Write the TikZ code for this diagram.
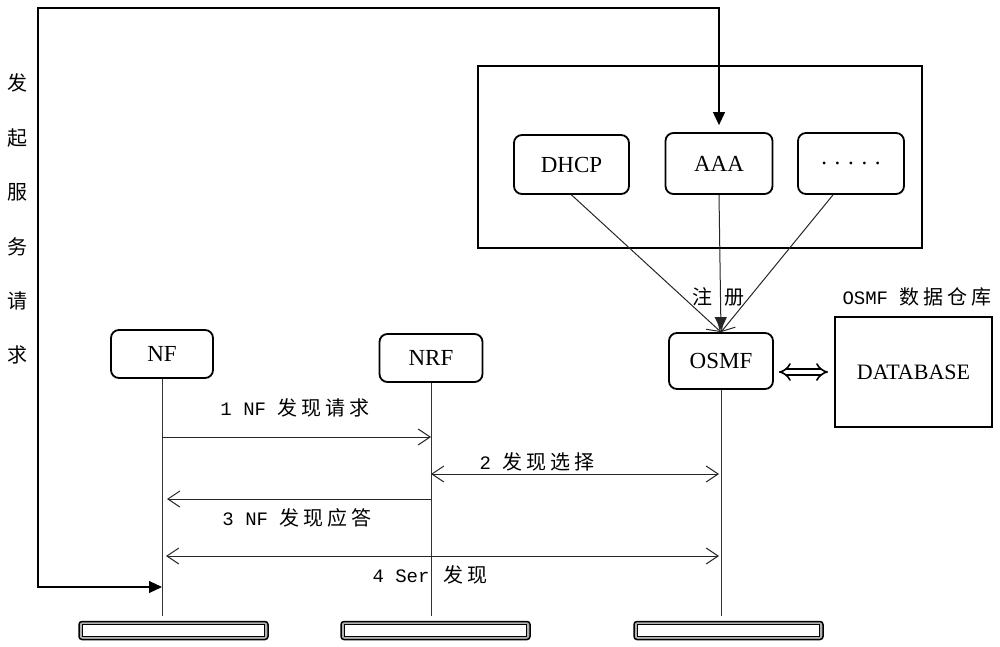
\documentclass[tikz,border=0pt]{standalone}
\usepackage{fontspec}
\setmainfont{Liberation Serif}
\newfontfamily\cjk[LetterSpace=20]{Noto Sans CJK SC}
\newfontfamily\cjkv{Noto Sans CJK SC}
\newfontfamily\monof{Liberation Mono}
\usetikzlibrary{arrows.meta}
\begin{document}
\begin{tikzpicture}[x=1pt,y=-1pt,
  rbox/.style={draw, rounded corners=8pt, line width=1.8pt, inner sep=0pt, font=\fontsize{23}{26}\selectfont},
  sbox/.style={draw, line width=1.9pt, inner sep=0pt},
  barbox/.style={draw, rounded corners=3pt, line width=1.5pt, fill=gray!60, minimum width=189pt, minimum height=18pt, inner sep=0pt},
  life/.style={line width=1pt, draw=black!80},
  msg/.style={line width=1pt, draw=black!85},
  barb/.tip={Straight Barb[length=12pt,width=16pt,line width=1pt]},
  tri/.tip={Triangle[length=13pt,width=12pt]},
  lbl/.style={inner sep=0pt, font=\fontsize{20}{24}\selectfont},
]
\useasboundingbox (0,0) rectangle (1000,647);

% outer group box
\node[sbox, minimum width=444pt, minimum height=182pt] (grp) at (700,157) {};
\node[rbox, minimum width=115pt, minimum height=59pt] (DHCP) at (571.5,164.5) {DHCP};
\node[rbox, minimum width=107pt, minimum height=61pt] (AAA) at (719,163.5) {AAA};
\node[rbox, minimum width=106pt, minimum height=61pt] (dots) at (851,163.5) {.\,\,.\,\,.\,\,.\,\,.};

% lifeline heads
\node[rbox, minimum width=102pt, minimum height=48pt] (NF) at (162,354) {NF};
\node[rbox, minimum width=103pt, minimum height=48pt] (NRF) at (431,358) {NRF};
\node[rbox, minimum width=104pt, minimum height=56pt] (OSMF) at (721,361) {OSMF};
\node[sbox, minimum width=157pt, minimum height=110pt, font=\fontsize{22}{26}\selectfont] (DB) at (913.5,372) {DATABASE};

% bottom bars
\node[barbox] (bar1) at (173.5,630.5) {};
\node[barbox] (bar2) at (435.5,630.5) {};
\node[barbox] (bar3) at (728.5,630.5) {};
\foreach \b in {bar1,bar2,bar3}{
  \draw[fill=white, line width=1pt] ([shift={(4,4)}]\b.north west) rectangle ([shift={(-4,-4)}]\b.south east);
}

% lifelines
\draw[life, shorten >=5pt] (NF.south) -- (NF |- bar1.north);
\draw[life, shorten >=5pt] (NRF.south) -- (NRF |- bar2.north);
\draw[life, shorten >=5pt] (OSMF.south) -- (OSMF |- bar3.north);

% labels
\node[lbl] (vlabel) at (17,216) {\cjkv\fontsize{20}{54.4}\selectfont\begin{tabular}{@{}c@{}}发\\起\\服\\务\\请\\求\end{tabular}};
\node[lbl] (zc) at (718,297) {\cjk 注\hspace{12pt}册};
\node[lbl] (dbl) at (917,297) {{\monof\fontsize{19}{22}\selectfont OSMF }{\cjk 数据仓库}};

% service request loop
\coordinate (nfarr) at (162,587);
\coordinate (tl) at (38,8);
\draw[line width=1.1pt, {tri}-{tri}, shorten >=7pt] (nfarr) -| (tl) -| (AAA.north);

% registration
\draw[msg, -{barb}] (DHCP.south) -- (OSMF.north);
\draw[msg, -{barb}] ([xshift=-18pt]dots.south) -- (OSMF.north);
\draw[msg, -{tri}, shorten >=2pt] (AAA.south) -- (OSMF.north);

% OSMF <-> DATABASE
\draw[double, double distance=4.5pt, line width=1.6pt, {Implies}-{Implies}, shorten <=5pt, shorten >=6pt] (OSMF.east |- DB.west) -- (DB.west);

% messages
\coordinate (m1) at (0,437);
\coordinate (m2) at (0,474);
\coordinate (m3) at (0,499);
\coordinate (m4) at (0,556);
\draw[msg, -{barb}] (NF |- m1) -- (NRF |- m1);
\draw[msg, {barb}-{barb}, shorten >=2pt] (NRF |- m2) -- (OSMF |- m2);
\draw[msg, -{barb}, shorten >=5pt] (NRF |- m3) -- (NF |- m3);
\draw[msg, {barb}-{barb}, shorten <=4pt, shorten >=2pt] (NF |- m4) -- (OSMF |- m4);

\node[lbl] (l1) at (295,408) {{\monof\fontsize{19}{22}\selectfont 1 NF }{\cjk 发现请求}};
\node[lbl] (l2) at (537,462) {{\monof\fontsize{19}{22}\selectfont 2 }{\cjk 发现选择}};
\node[lbl] (l3) at (297,518) {{\monof\fontsize{19}{22}\selectfont 3 NF }{\cjk 发现应答}};
\node[lbl] (l4) at (430,575) {{\monof\fontsize{19}{22}\selectfont 4 Ser\hspace{14pt}}{\cjk 发现}};
\end{tikzpicture}
\end{document}
